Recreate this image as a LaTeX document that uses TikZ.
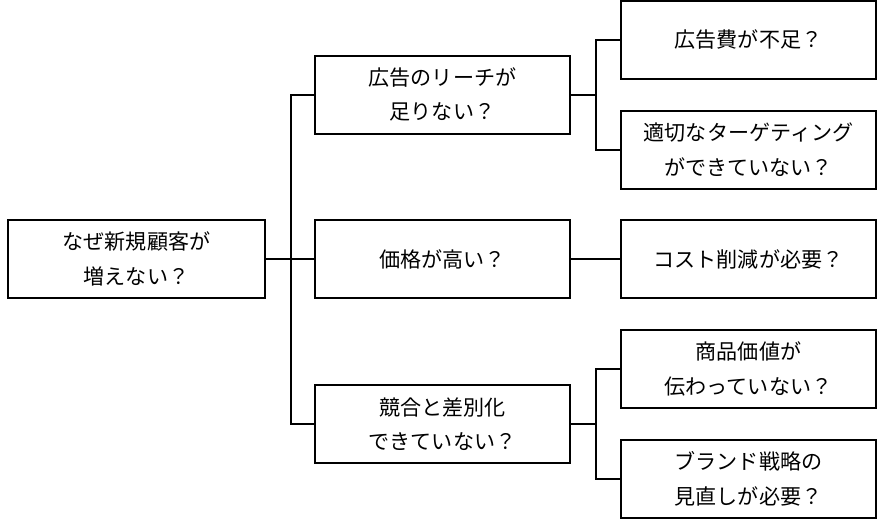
\documentclass[tikz,border=0pt]{standalone}
\usepackage{fontspec}
\newfontfamily\jpfont{Noto Sans CJK JP}
\usetikzlibrary{positioning}

\begin{document}
\begin{tikzpicture}[
    x=0.75pt, y=-0.75pt,
    line width = 1.5pt,
    black,
    box/.style = {draw, rectangle, line width = 1.5pt, align = center,
                  minimum width = 191.25pt, minimum height = 58.5pt,
                  inner sep = 0pt,
                  font = \jpfont\fontsize{15.8}{26}\selectfont},
    ]

    % Determines the boundries
    \path[use as bounding box] (0,0) rectangle (886,522);

    \def\gap{25}           % length of the elbow stubs

    % The root of the tree
    \node[box, minimum width = 192.75pt] (why) at (136.5,259) {なぜ新規顧客が\\増えない？};

    % First level of causes
    \node[box] (reach)  at (442.5, 94.5) {広告のリーチが\\足りない？};
    \node[box] (price)  at (442.5,259)   {価格が高い？};
    \node[box] (rival)  at (442.5,424)   {競合と差別化\\できていない？};

    % Second level of causes
    \node[box] (budget) at (748.5, 40)   {広告費が不足？};
    \node[box] (target) at (748.5,149.5) {適切なターゲティング\\ができていない？};
    \node[box] (cost)   at (748.5,259)   {コスト削減が必要？};
    \node[box] (value)  at (748.5,369)   {商品価値が\\伝わっていない？};
    \node[box] (brand)  at (748.5,479)   {ブランド戦略の\\見直しが必要？};

    % Connectors from the root
    \foreach \child in {reach, price, rival}{
        \draw (why.east) -- ++(\gap,0) |- (\child.west);
    }

    % Connectors from the first level
    \foreach \parent/\child in {reach/budget, reach/target,
                                price/cost,
                                rival/value, rival/brand}{
        \draw (\parent.east) -- ++(\gap,0) |- (\child.west);
    }
\end{tikzpicture}
\end{document}
